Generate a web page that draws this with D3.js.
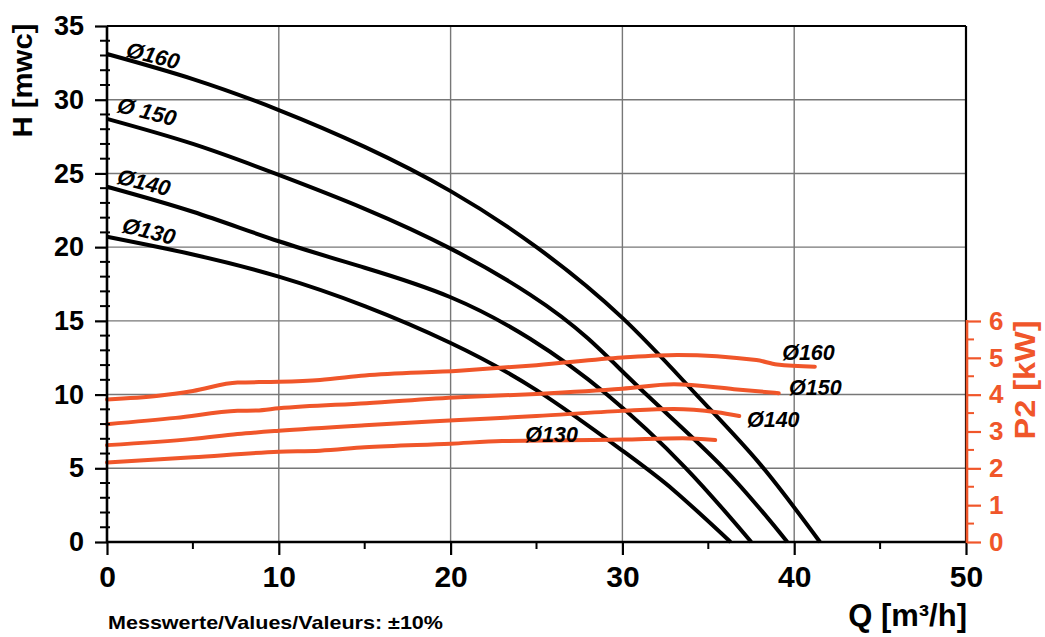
<!DOCTYPE html>
<html>
<head>
<meta charset="utf-8">
<script src="https://cdn.jsdelivr.net/npm/d3@7"></script>
<style>
  html, body { margin: 0; padding: 0; background: #fff; }
  svg { display: block; font-family: "Liberation Sans", Arial, sans-serif; }
</style>
</head>
<body>
<svg id="chart" width="1045" height="637"></svg>
<script>
// ---------- data ----------
const qTicks = [0, 10, 20, 30, 40, 50];
const hTicks = [0, 5, 10, 15, 20, 25, 30, 35];
const pTicks = [0, 1, 2, 3, 4, 5, 6];
const diameters = ["Ø160", "Ø150", "Ø140", "Ø130"];

// head curves [Q m3/h, H mwc]
const head160 = [[0,33.1],[5,31.4],[10,29.3],[15,26.8],[20,23.8],[25,20.0],[30,15.2],[34.3,10.0],[38,5.3],[41.5,0]];
const head150 = [[0,28.7],[5,27.0],[10,24.9],[15,22.6],[20,19.9],[24.6,16.8],[28,13.8],[31.4,10.0],[35.9,5.0],[39.6,0]];
const head140 = [[0,24.1],[5,22.4],[10,20.4],[15,18.6],[20,16.6],[24.6,13.8],[29.1,10.0],[33.7,5.0],[37.5,0]];
const head130 = [[0,20.7],[5,19.5],[10,18.0],[15,16.0],[20,13.5],[25,10.3],[30,6.2],[33,3.5],[36.3,0]];

// power curves [Q m3/h, P2 kW]
const power160 = [[0,3.87],[3,3.97],[5,4.1],[7.6,4.33],[10,4.35],[12.4,4.40],[15,4.52],[20.5,4.65],[25,4.8],[30,5.01],[33.2,5.08],[37.8,4.94],[39,4.82],[41.2,4.76]];
const power150 = [[0,3.20],[4,3.37],[7.6,3.56],[8.7,3.57],[10,3.63],[15.1,3.77],[20.5,3.93],[25,4.02],[30,4.16],[33,4.28],[36.5,4.15],[39.1,4.04]];
const power140 = [[0,2.63],[5,2.8],[7.6,2.93],[10,3.02],[15,3.17],[20.5,3.31],[25,3.42],[30,3.56],[33,3.61],[35.5,3.52],[36.8,3.42]];
const power130 = [[0,2.16],[5,2.3],[10,2.45],[12.4,2.48],[15,2.57],[20,2.67],[23,2.74],[30,2.78],[33.5,2.82],[35.4,2.77]];

// label anchors (data units)
const headLabelPos = [[2.68,33.0],[2.33,29.2],[2.15,24.4],[2.44,21.1]];
const powerLabelPos = [[39.3,4.94],[39.7,3.99],[37.25,3.12],[24.35,2.72]];

// ---------- setup ----------
const ORANGE = "#f0562a";
const svg = d3.select("#chart");
const x = d3.scaleLinear().domain([0, 50]).range([107, 966]);
const yH = d3.scaleLinear().domain([0, 35]).range([542, 26]);
const yP = d3.scaleLinear().domain([0, 6]).range([542, 321]);

// gridlines
const grid = svg.append("g");
grid.selectAll(".vg").data(qTicks.slice(1, -1)).join("line")
  .attr("x1", d => x(d)).attr("x2", d => x(d))
  .attr("y1", yH(35)).attr("y2", yH(0))
  .attr("stroke", "#777").attr("stroke-width", 1.4);
grid.selectAll(".hg").data(hTicks.slice(1, -1)).join("line")
  .attr("x1", x(0)).attr("x2", x(50))
  .attr("y1", d => yH(d)).attr("y2", d => yH(d))
  .attr("stroke", "#777").attr("stroke-width", 1.4);

// frame top + right
svg.append("line").attr("x1", x(0)).attr("x2", x(50)).attr("y1", yH(35)).attr("y2", yH(35))
  .attr("stroke", "#000").attr("stroke-width", 2.2);
svg.append("line").attr("x1", x(50)).attr("x2", x(50)).attr("y1", yH(35)).attr("y2", yH(0))
  .attr("stroke", "#000").attr("stroke-width", 2.2);

// ---------- curves ----------
const lineH = d3.line().x(d => x(d[0])).y(d => yH(d[1])).curve(d3.curveNatural);
const lineP = d3.line().x(d => x(d[0])).y(d => yP(d[1])).curve(d3.curveMonotoneX);
const heads = [head160, head150, head140, head130];
const powers = [power160, power150, power140, power130];

svg.append("g").selectAll("path").data(heads).join("path")
  .attr("d", lineH).attr("fill", "none").attr("stroke", "#000")
  .attr("stroke-width", 4).attr("stroke-linecap", "butt");
svg.append("g").selectAll("path").data(powers).join("path")
  .attr("d", lineP).attr("fill", "none").attr("stroke", ORANGE)
  .attr("stroke-width", 4).attr("stroke-linecap", "round");

// curve labels
svg.append("g").selectAll("text").data(diameters).join("text")
  .attr("transform", (d, i) => `translate(${x(headLabelPos[i][0])},${yH(headLabelPos[i][1])}) rotate(14)`)
  .attr("text-anchor", "middle").attr("dy", "0.35em")
  .attr("font-size", 22).attr("font-weight", "bold").attr("font-style", "italic")
  .attr("fill", "#000")
  .text((d, i) => i === 1 ? "Ø 150" : d);
svg.append("g").selectAll("text").data(diameters).join("text")
  .attr("x", (d, i) => x(powerLabelPos[i][0])).attr("y", (d, i) => yP(powerLabelPos[i][1]))
  .attr("font-size", 21.5).attr("font-weight", "bold").attr("font-style", "italic")
  .attr("fill", "#000").text(d => d);

// ---------- axes ----------
function styleAxis(g, color, fontSize) {
  g.select(".domain").remove();
  g.selectAll(".tick line").attr("stroke", color).attr("stroke-width", 2.2);
  g.selectAll(".tick text").attr("fill", color).attr("font-size", fontSize)
    .attr("font-weight", "bold").attr("font-family", "Liberation Sans, Arial, sans-serif");
}

// left minor ticks (crossing)
svg.append("g").selectAll("line").data(d3.range(0, 36).filter(v => v % 5 !== 0)).join("line")
  .attr("x1", x(0) - 7).attr("x2", x(0) + 3)
  .attr("y1", d => yH(d)).attr("y2", d => yH(d))
  .attr("stroke", "#000").attr("stroke-width", 2);

const leftAxis = svg.append("g").attr("transform", `translate(${x(0)},0)`)
  .call(d3.axisLeft(yH).tickValues(hTicks).tickSize(12).tickPadding(11));
styleAxis(leftAxis, "#000", 27);

// bottom minor ticks
svg.append("g").selectAll("line").data([5, 15, 25, 35, 45]).join("line")
  .attr("x1", d => x(d)).attr("x2", d => x(d))
  .attr("y1", yH(0)).attr("y2", yH(0) + 7)
  .attr("stroke", "#000").attr("stroke-width", 2);

const bottomAxis = svg.append("g").attr("transform", `translate(0,${yH(0)})`)
  .call(d3.axisBottom(x).tickValues(qTicks).tickSize(13).tickPadding(11));
styleAxis(bottomAxis, "#000", 30);

// axis lines
svg.append("line").attr("x1", x(0)).attr("x2", x(0)).attr("y1", yH(35)).attr("y2", yH(0) + 1)
  .attr("stroke", "#000").attr("stroke-width", 2.6);
svg.append("line").attr("x1", x(0) - 1).attr("x2", x(50) + 1).attr("y1", yH(0)).attr("y2", yH(0))
  .attr("stroke", "#000").attr("stroke-width", 2.6);

// right axis (orange)
svg.append("g").selectAll("line").data(d3.range(0.5, 6, 1)).join("line")
  .attr("x1", x(50)).attr("x2", x(50) + 8)
  .attr("y1", d => yP(d)).attr("y2", d => yP(d))
  .attr("stroke", ORANGE).attr("stroke-width", 2);
const rightAxis = svg.append("g").attr("transform", `translate(${x(50) + 1},0)`)
  .call(d3.axisRight(yP).tickValues(pTicks).tickFormat(d3.format("d")).tickSize(14).tickPadding(8));
styleAxis(rightAxis, ORANGE, 26);
svg.append("line").attr("x1", x(50) + 1).attr("x2", x(50) + 1).attr("y1", yP(6) - 1).attr("y2", yP(0) + 1)
  .attr("stroke", ORANGE).attr("stroke-width", 2.6);

// ---------- titles ----------
svg.append("text").attr("transform", `translate(32,${yH(31.3)}) rotate(-90)`)
  .attr("text-anchor", "middle").attr("font-size", 27).attr("font-weight", "bold")
  .attr("textLength", 114).attr("lengthAdjust", "spacingAndGlyphs")
  .text("H [mwc]");
svg.append("text").attr("transform", `translate(1035,${yP(4.4)}) rotate(-90)`)
  .attr("text-anchor", "middle").attr("font-size", 30).attr("font-weight", "bold")
  .attr("fill", ORANGE).attr("textLength", 119).attr("lengthAdjust", "spacingAndGlyphs")
  .text("P2 [kW]");
svg.append("text").attr("x", 967).attr("y", 626)
  .attr("text-anchor", "end").attr("font-size", 31).attr("font-weight", "bold")
  .text("Q [m³/h]");
svg.append("text").attr("x", 108).attr("y", 629)
  .attr("font-size", 18.5).attr("font-weight", "bold")
  .attr("textLength", 335).attr("lengthAdjust", "spacingAndGlyphs")
  .text("Messwerte/Values/Valeurs: ±10%");
</script>
</body>
</html>
